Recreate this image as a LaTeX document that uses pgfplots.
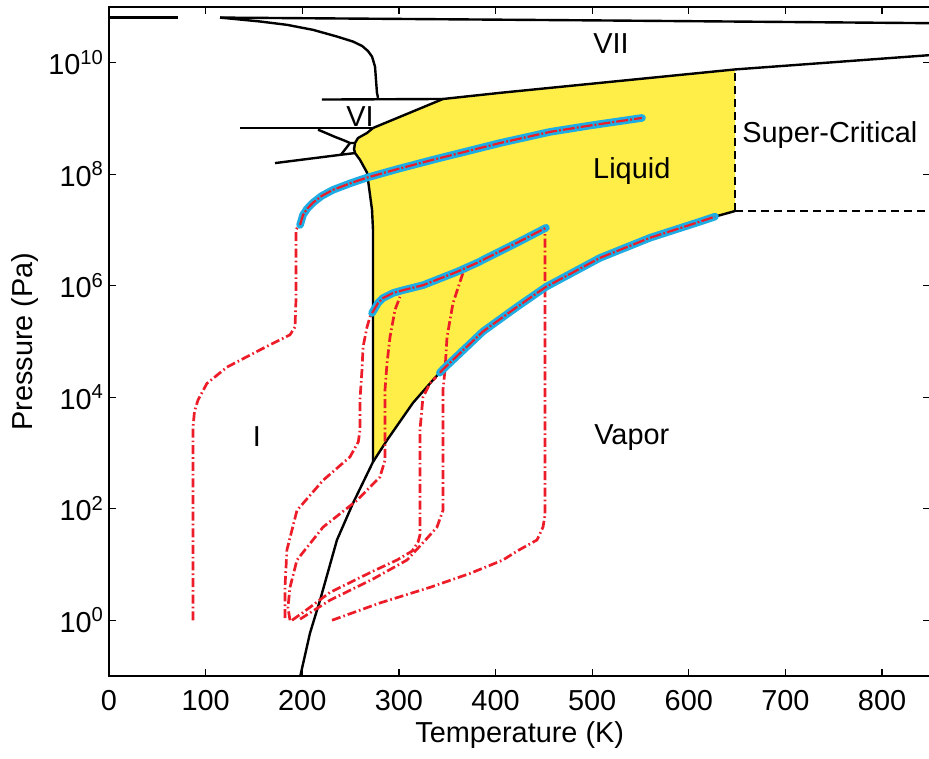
\documentclass[border=0pt]{standalone}
\usepackage{fontspec}
\setmainfont{Liberation Sans}
\usepackage{pgfplots}
\pgfplotsset{compat=1.18}
\definecolor{liq}{RGB}{255,237,72}
\definecolor{cy}{RGB}{30,172,228}
\definecolor{rd}{RGB}{236,28,40}
\newcommand{\tl}[1]{10\textsuperscript{#1}}
\tikzset{
  blk/.style={black, line width=1.2bp, line join=round},
  rdd/.style={rd, line width=1.35bp, line join=round, dash pattern=on 4.5bp off 1.5bp on 0.8bp off 1.5bp},
  cyl/.style={cy, line width=3.8bp, line cap=round, line join=round},
  rdc/.style={rd, line width=1.1bp, line join=round, dash pattern=on 6bp off 1bp on 1bp off 1bp},
  crit/.style={black, line width=0.9bp, dash pattern=on 4bp off 2.5bp},
}
\begin{document}
\fontsize{14.5}{17}\selectfont
\begin{tikzpicture}
\begin{axis}[
  at={(0,0)}, anchor=south west,
  scale only axis, width=410.7bp, height=334.5bp,
  xmin=0, xmax=850, ymin=-1, ymax=11,
  xtick={0,100,...,800},
  ytick={0,2,4,6,8,10},
  yticklabels={\tl{0},\tl{2},\tl{4},\tl{6},\tl{8},\tl{10}},
  /pgf/number format/assume math mode=true,
  tick align=inside, major tick length=3.5bp,
  axis line style={line width=0.6bp},
  every tick/.style={line width=0.6bp, black},
  tick label style={font=\fontsize{14.5}{17}\selectfont},
  xticklabel style={yshift=-2bp},
  yticklabel style={xshift=2.5bp},
  label style={font=\fontsize{14.5}{17}\selectfont},
  xlabel={Temperature (K)}, ylabel={Pressure (Pa)},
  xlabel style={at={(axis description cs:0.5,-0.0882)}, anchor=center},
  ylabel style={at={(axis description cs:-0.1023,0.5)}, anchor=center},
  clip=true,
]
% liquid region
\addplot[fill=liq, draw=none] coordinates {
 (273.2,2.84) (287.7,3.23) (314.6,3.90) (335.3,4.31) (345.6,4.50) (387.0,5.18)
 (422.2,5.62) (452.2,5.98) (508.1,6.50) (559.8,6.86) (611.6,7.15) (627.1,7.24) (647.8,7.34)
 (647.8,9.88) (404.6,9.46) (345.6,9.35) (301.1,9.03) (273.2,8.83) (267.0,8.74)
 (257.7,8.65) (254.6,8.56) (253.6,8.45) (254.6,8.38) (259.7,8.26) (267.0,8.03)
 (272.2,7.36) (273.2,7.0)} -- cycle;
% black phase boundaries
\addplot[blk] coordinates {(1.0,10.81) (71.4,10.81)};
\addplot[blk] coordinates {(114.9,10.81) (500,10.76) (848.6,10.71) (860,10.71)};
\addplot[blk] coordinates {(114.9,10.81) (156.3,10.74) (184.2,10.68) (211.1,10.59) (235.9,10.47)
 (252.5,10.38) (262.0,10.30) (268.0,10.21) (272.2,10.11) (275.3,9.93) (276.3,9.69) (277.3,9.46) (278.4,9.37)};
\addplot[blk] coordinates {(220.4,9.34) (345.6,9.35)};
\addplot[blk] coordinates {(345.6,9.35) (404.6,9.46) (647.8,9.88) (860,10.15)};
\addplot[blk] coordinates {(273.2,8.83) (301.1,9.03) (345.6,9.35)};
\addplot[blk] coordinates {(135.6,8.83) (273.2,8.83)};
\addplot[blk] coordinates {(273.2,8.83) (267.0,8.74) (257.7,8.65) (254.6,8.56) (253.6,8.45)
 (254.6,8.38) (259.7,8.26) (267.0,8.03) (272.2,7.36) (273.2,7.0) (273.2,2.84)};
\addplot[blk] coordinates {(216.3,8.80) (233.9,8.67) (244.2,8.60) (249.4,8.56) (254.6,8.56)};
\addplot[blk] coordinates {(171.8,8.20) (240.1,8.35) (254.6,8.38)};
\addplot[blk] coordinates {(240.1,8.35) (249.4,8.56)};
\addplot[blk] coordinates {(197.7,-1.02) (208.0,-0.23) (218.4,0.36) (235.9,1.44) (252.5,2.10) (273.2,2.84)};
\addplot[blk] coordinates {(273.2,2.84) (287.7,3.23) (314.6,3.90) (335.3,4.31) (345.6,4.50) (387.0,5.18)
 (422.2,5.62) (452.2,5.98) (508.1,6.50) (559.8,6.86) (611.6,7.15) (627.1,7.24) (647.8,7.34)};
\addplot[crit] coordinates {(647.8,7.34) (647.8,9.88)};
\addplot[crit] coordinates {(647.8,7.34) (860,7.34)};
% red dash-dot paths
\addplot[rdd] coordinates {(86.9,0) (86.9,3.47) (88.5,3.75) (92.1,3.95) (101.4,4.25) (122.1,4.54) (156.3,4.85)
 (187.3,5.12) (192.5,5.26) (193.5,5.75) (193.5,7.00) (197.7,7.13)};
\addplot[rdd] coordinates {(182.1,0.04) (182.1,0.59) (184.1,1.26) (194.5,1.97) (221.5,2.51) (249.4,2.93)
 (258.0,3.20) (259.7,3.41) (259.7,3.95) (261.8,4.49) (262.9,4.90) (267.0,5.26) (270.1,5.44) (272.2,5.51)};
\addplot[rdd] coordinates {(187.3,0) (185.2,0.23) (187.3,0.59) (194.5,1.08) (221.5,1.67) (256.6,2.15)
 (280.4,2.57) (285.6,2.87) (285.6,3.95) (285.6,4.13) (287.7,4.61) (290.8,5.08) (296.0,5.57) (301.1,5.80)};
\addplot[rdd] coordinates {(189.4,0) (200.8,0.14) (228.7,0.50) (273.2,0.88) (298.0,1.08) (313.6,1.24)
 (319.8,1.40) (321.8,1.53) (321.8,2.51) (321.8,3.41) (324.9,4.00) (332.2,4.25) (338.4,4.36)};
\addplot[rdd] coordinates {(197.7,0.02) (228.7,0.36) (273.2,0.74) (308.4,1.08) (329.1,1.47) (339.4,1.67)
 (345.6,1.97) (345.6,2.57) (345.6,4.13) (347.7,4.49) (349.8,5.08) (356.0,5.69) (366.3,6.23) (378,6.39)};
\addplot[rdd] coordinates {(230.8,0) (280.4,0.31) (332.2,0.59) (373.6,0.84) (407.7,1.08) (422.2,1.24)
 (442.9,1.44) (449.1,1.67) (451.2,1.89) (451.2,7.04)};
% cyan highlighted segments
\addplot[cyl] coordinates {(197.7,7.09) (200.8,7.27) (205,7.38) (211.1,7.49) (220,7.61) (231.8,7.72)
 (250,7.84) (267.0,7.94) (300,8.10) (335.3,8.26) (370,8.41) (404.6,8.56) (456.4,8.76) (500,8.88) (551.6,9.01)};
\addplot[cyl] coordinates {(272.2,5.51) (278.4,5.69) (283.6,5.78) (293.9,5.87) (304.2,5.92) (324.9,6.01)
 (360.1,6.25) (380.8,6.41) (422.2,6.77) (452.2,7.04)};
\addplot[cyl] coordinates {(342.4,4.44) (345.6,4.50) (387.0,5.18) (422.2,5.62) (452.2,5.98) (508.1,6.50)
 (559.8,6.86) (611.6,7.15) (627.1,7.24)};
\addplot[rdc] coordinates {(197.7,7.09) (200.8,7.27) (205,7.38) (211.1,7.49) (220,7.61) (231.8,7.72)
 (250,7.84) (267.0,7.94) (300,8.10) (335.3,8.26) (370,8.41) (404.6,8.56) (456.4,8.76) (500,8.88) (551.6,9.01)};
\addplot[rdc] coordinates {(272.2,5.51) (278.4,5.69) (283.6,5.78) (293.9,5.87) (304.2,5.92) (324.9,6.01)
 (360.1,6.25) (380.8,6.41) (422.2,6.77) (452.2,7.04)};
\addplot[rdc] coordinates {(342.4,4.44) (345.6,4.50) (387.0,5.18) (422.2,5.62) (452.2,5.98) (508.1,6.50)
 (559.8,6.86) (611.6,7.15) (627.1,7.24)};
% region labels
\node at (axis cs:519.5,10.34) {VII};
\node at (axis cs:259.7,9.03) {VI};
\node at (axis cs:746,8.71) {Super-Critical};
\node at (axis cs:541,8.05) {Liquid};
\node at (axis cs:153,3.29) {I};
\node at (axis cs:541,3.27) {Vapor};
\end{axis}
\pgfresetboundingbox
\path (-54.5bp,-41.5bp) rectangle (410bp,338bp);
\end{tikzpicture}
\end{document}
